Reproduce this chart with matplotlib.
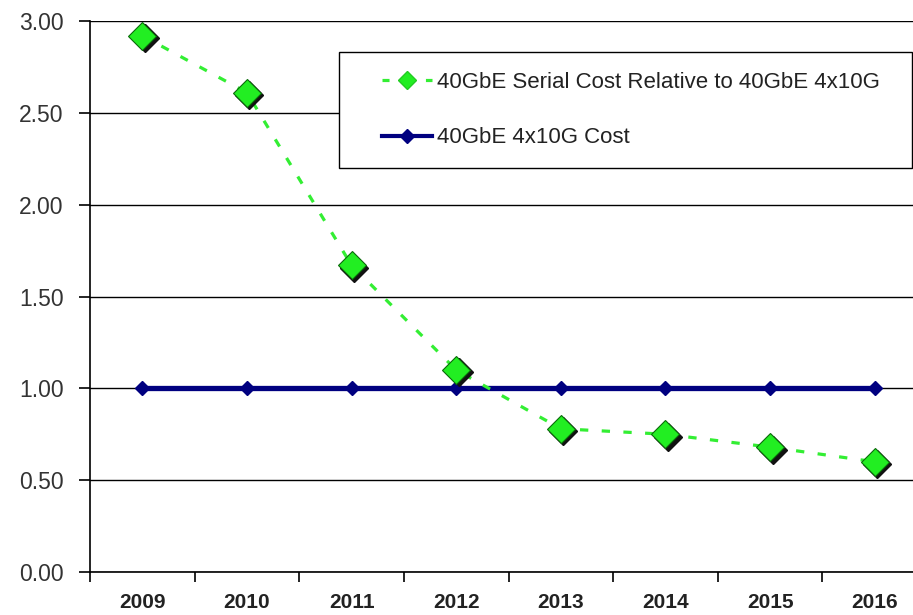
import matplotlib.pyplot as plt
import matplotlib.transforms as mtransforms
from matplotlib.lines import Line2D
from matplotlib.legend_handler import HandlerLine2D

years = ['2009', '2010', '2011', '2012', '2013', '2014', '2015', '2016']
serial_cost = [2.92, 2.61, 1.67, 1.10, 0.78, 0.75, 0.68, 0.60]
base_cost = [1.00, 1.00, 1.00, 1.00, 1.00, 1.00, 1.00, 1.00]
y_ticks = [0.0, 0.5, 1.0, 1.5, 2.0, 2.5, 3.0]

plt.rcParams['font.family'] = ['Liberation Sans', 'DejaVu Sans']

W, H = 913, 615
fig = plt.figure(figsize=(W / 100, H / 100), dpi=100)
ax = fig.add_axes([90 / W, 43 / H, 837 / W, 551 / H])

x = list(range(len(years)))

# thick navy base line
ax.plot(x, base_cost, color='#000080', lw=3.8, marker='D', ms=7.5,
        mfc='#000080', mec='#000080', zorder=3)

# dashed green line, then diamonds with a black drop shadow
ax.plot(x, serial_cost, color='#33ee33', lw=2.3, ls=(0, (2.6, 4.2)), zorder=4)
shadow = mtransforms.offset_copy(ax.transData, fig=fig, x=2.5, y=-2.5, units='dots')
ax.plot(x, serial_cost, ls='none', marker='D', ms=14, mfc='#111111', mec='#111111',
        transform=shadow, zorder=5)
ax.plot(x, serial_cost, ls='none', marker='D', ms=14, mfc='#22ee22', mec='#0a6a0a',
        mew=0.8, zorder=6)

ax.set_xlim(-0.5, len(years) - 0.5)
ax.set_ylim(0, 3.0)
ax.set_yticks(y_ticks)
ax.set_yticklabels([f'{v:.2f}' for v in y_ticks], fontsize=16.5, color='#333333')
ax.yaxis.grid(True, color='black', lw=1)
ax.set_axisbelow(True)

ax.set_xticks([i - 0.5 for i in range(len(years) + 1)])
ax.set_xticklabels([])
ax.set_xticks(x, minor=True)
ax.set_xticklabels(years, minor=True, fontsize=15, fontweight='bold', color='#222222')
ax.tick_params(axis='x', which='minor', length=0, pad=15)
ax.tick_params(axis='x', which='major', direction='out', length=7, width=1.2)
ax.tick_params(axis='y', direction='out', length=8, width=1.2, pad=11)

for side in ['top', 'right']:
    ax.spines[side].set_visible(False)
for side in ['left', 'bottom']:
    ax.spines[side].set_linewidth(1.2)

h_serial = Line2D([0], [0], color='#33ee33', lw=2.3, ls=(0, (2.2, 4.6)), marker='D', ms=9,
                  mfc='#22ee22', mec='#22cc22')
h_base = Line2D([0], [0], color='#000080', lw=3.0, marker='D', ms=7,
                mfc='#000080', mec='#000080')
leg = ax.legend([h_serial, h_base], ['40GbE Serial Cost Relative to 40GbE 4x10G', '40GbE 4x10G Cost'],
                loc='upper left', bbox_to_anchor=(339 / W, 1 - 52 / H - 0.01, 573 / W, 0.01),
                bbox_transform=fig.transFigure, mode='expand', fontsize=16, frameon=True,
                fancybox=False, edgecolor='black', framealpha=1,
                handlelength=3.3, handletextpad=0.2, labelspacing=1.55,
                borderpad=0.9, borderaxespad=0,
                handler_map={Line2D: HandlerLine2D(xpad=1.05)})
leg.get_frame().set_linewidth(1.0)
for t in leg.get_texts():
    t.set_color('#222222')

fig.savefig('out.png', dpi=100)
